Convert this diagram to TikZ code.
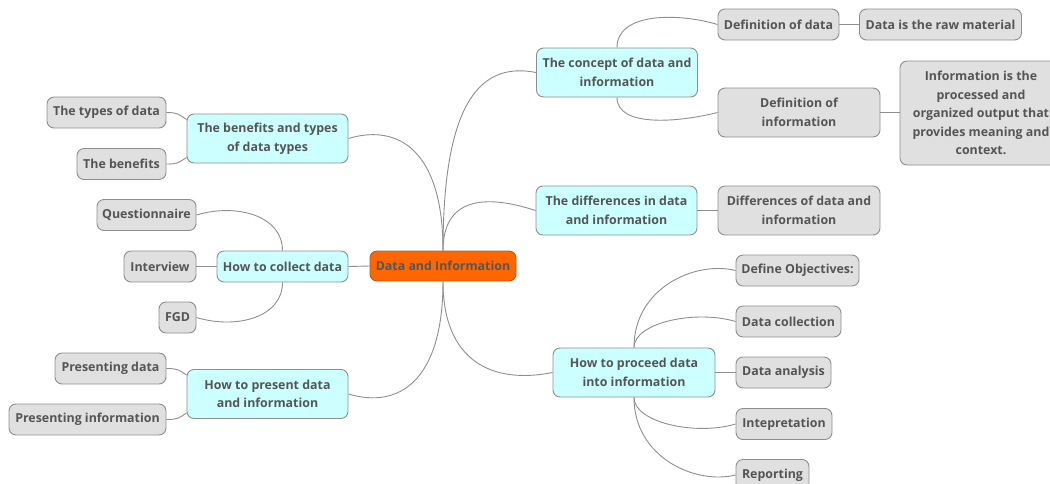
\documentclass[tikz,border=0pt]{standalone}
\usepackage{fontspec}
\setmainfont{Open Sans}
\definecolor{txt}{HTML}{555555}
\definecolor{edge}{HTML}{8E8E8E}
\definecolor{cyanfill}{HTML}{CCFFFF}
\definecolor{grayfill}{HTML}{E0E0E0}
\definecolor{rootfill}{HTML}{FF6600}
\definecolor{rootedge}{HTML}{B85A20}
\begin{document}
\begin{tikzpicture}[x=1pt,y=-1pt,
  box/.style={draw=edge, line width=0.9pt, rounded corners=7pt, align=center,
    text=txt, font=\fontsize{12.4}{18.5}\selectfont\bfseries, inner sep=0pt},
  topic/.style={box, fill=cyanfill},
  leaf/.style={box, fill=grayfill},
  rootbox/.style={box, fill=rootfill, draw=rootedge},
  link/.style={draw=edge, line width=0.9pt}]
\useasboundingbox (0,0) rectangle (1050,483);
% root
\node[rootbox, minimum width=146pt, minimum height=30pt] (root) at (443,266) {Data and Information};
% right side
\node[topic, minimum width=161pt, minimum height=49pt] (concept) at (617,72.5) {The concept of data and\\information};
\node[leaf, minimum width=121pt, minimum height=31pt] (defdata) at (778.5,24.5) {Definition of data};
\node[leaf, minimum width=162pt, minimum height=31pt] (raw) at (940.5,24.5) {Data is the raw material};
\node[leaf, minimum width=162pt, minimum height=49pt] (definfo) at (799,112.5) {Definition of\\information};
\node[leaf, minimum width=162pt, minimum height=104pt] (infobox) at (981,113) {Information is the\\processed and\\organized output that\\provides meaning and\\context.};
\node[topic, minimum width=161pt, minimum height=49pt] (diff) at (616.5,210.5) {The differences in data\\and information};
\node[leaf, minimum width=162pt, minimum height=49pt] (diff2) at (799,210.5) {Differences of data and\\information};
\node[topic, minimum width=162pt, minimum height=49pt] (proceed) at (634,372.5) {How to proceed data\\into information};
\node[leaf, minimum width=123pt, minimum height=31pt] (defobj) at (797.5,270.5) {Define Objectives:};
\node[leaf, minimum width=105pt, minimum height=31pt] (datacol) at (788.5,321.5) {Data collection};
\node[leaf, minimum width=95pt, minimum height=31pt] (analysis) at (783.5,372.5) {Data analysis};
\node[leaf, minimum width=96pt, minimum height=31pt] (interp) at (784,424) {Intepretation};
\node[leaf, minimum width=73pt, minimum height=31pt] (report) at (772.5,475) {Reporting};
% left side
\node[topic, minimum width=161pt, minimum height=49pt] (bt) at (267.5,138.5) {The benefits and types\\of data types};
\node[leaf, minimum width=119pt, minimum height=31pt] (types) at (106.5,112.5) {The types of data};
\node[leaf, minimum width=89pt, minimum height=31pt] (benefits) at (121.5,164) {The benefits};
\node[topic, minimum width=131pt, minimum height=31pt] (collect) at (282.5,266.5) {How to collect data};
\node[leaf, minimum width=99pt, minimum height=31pt] (quest) at (146.5,215) {Questionnaire};
\node[leaf, minimum width=72pt, minimum height=31pt] (interview) at (160,266.5) {Interview};
\node[leaf, minimum width=37pt, minimum height=31pt] (fgd) at (177.5,317.5) {FGD};
\node[topic, minimum width=161pt, minimum height=49pt] (present) at (267.5,394) {How to present data\\and information};
\node[leaf, minimum width=111pt, minimum height=31pt] (presdata) at (110.5,368.5) {Presenting data};
\node[leaf, minimum width=157pt, minimum height=31pt] (presinfo) at (87.5,419.5) {Presenting information};
% connectors from root
\draw[link] (root.north) .. controls +(0,-140) and +(-60,-12) .. (concept.west);
\draw[link] (root.north) .. controls +(0,-50) and +(-55,-18) .. (diff.west);
\draw[link] (root.north) .. controls +(0,-100) and +(50,-15) .. (bt.east);
\draw[link] (root.west) -- (collect.east);
\draw[link] (root.south) .. controls +(0,100) and +(50,15) .. (present.east);
\draw[link] (root.south) .. controls +(0,80) and +(-60,12) .. (proceed.west);
% concept
\draw[link] (concept.north) .. controls +(0,-35) and +(-40,-12) .. (defdata.west);
\draw[link] (concept.south) .. controls +(0,30) and +(-40,10) .. (definfo.west);
\draw[link] (defdata.east) -- (raw.west);
\draw[link] (definfo.east) -- (definfo.east -| infobox.west);
\draw[link] (diff.east) -- (diff2.west);
% proceed
\draw[link] (proceed.north) .. controls +(0,-60) and +(-40,-10) .. (defobj.west);
\draw[link] (proceed.north) .. controls +(0,-25) and +(-40,-12) .. (datacol.west);
\draw[link] (proceed.east) -- (analysis.west);
\draw[link] (proceed.south) .. controls +(0,25) and +(-40,12) .. (interp.west);
\draw[link] (proceed.south) .. controls +(0,60) and +(-40,10) .. (report.west);
% benefits and types
\draw[link] (types.east) .. controls +(12,0) and +(-8,-5) .. ([yshift=19pt]bt.west);
\draw[link] (benefits.east) .. controls +(12,0) and +(-8,5) .. ([yshift=-19pt]bt.west);
% collect
\draw[link] (collect.north) .. controls +(0,-35) and +(40,-12) .. (quest.east);
\draw[link] (interview.east) -- (collect.west);
\draw[link] (collect.south) .. controls +(0,35) and +(40,12) .. (fgd.east);
% present
\draw[link] (presdata.east) .. controls +(12,0) and +(-8,-5) .. ([yshift=19pt]present.west);
\draw[link] (presinfo.east) .. controls +(12,0) and +(-8,5) .. ([yshift=-19pt]present.west);
\end{tikzpicture}
\end{document}
